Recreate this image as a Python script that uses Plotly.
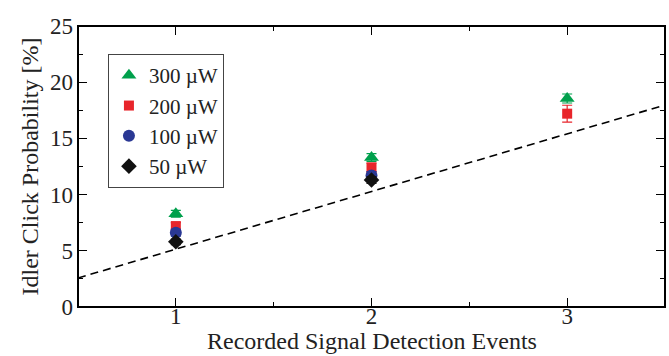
import plotly.graph_objects as go

events = [1, 2, 3]
p300 = [8.3, 13.3, 18.55]
p300_err = [0.3, 0.35, 0.4]
events_200 = [1, 2, 3]
p200 = [7.2, 12.4, 17.2]
p200_err = [0.3, 0.4, 0.75]
events_low = [1, 2]
p100 = [6.6, 11.7]
p100_err = [0.3, 0.35]
p50 = [5.8, 11.3]
p50_err = [0.25, 0.3]

fit_x = [0.5, 3.5]
fit_y = [2.58, 17.97]

x_ticks = [1, 2, 3]
y_ticks = [0, 5, 10, 15, 20, 25]
x_title = "Recorded Signal Detection Events"
y_title = "Idler Click Probability [%]"

FONT = "Liberation Serif"

fig = go.Figure()
fig.add_trace(go.Scatter(x=fit_x, y=fit_y, mode="lines",
                         line=dict(color="black", width=1.6, dash="8px,5px"),
                         showlegend=False, hoverinfo="skip"))

series = [
    ("300 µW", events, p300, p300_err, "#00a04c", "triangle-up", 13),
    ("200 µW", events_200, p200, p200_err, "#e8252b", "square", 10),
    ("100 µW", events_low, p100, p100_err, "#2a3894", "circle", 12),
    ("50 µW", events_low, p50, p50_err, "#111111", "diamond", 12),
]
for name, xs, ys, es, col, sym, sz in series:
    fig.add_trace(go.Scatter(
        x=xs, y=ys, mode="markers", name=name,
        marker=dict(symbol=sym, size=sz, color=col, line=dict(width=0)),
        error_y=dict(type="data", array=es, visible=True, color=col, thickness=1.2, width=5),
    ))

# invisible helper trace that attaches the label-only x axis
fig.add_trace(go.Scatter(x=x_ticks, y=[0] * len(x_ticks), xaxis="x2", yaxis="y",
                         mode="markers", marker=dict(opacity=0, size=1),
                         showlegend=False, hoverinfo="skip"))

axis_common = dict(
    showline=False, mirror="ticks",
    ticks="inside", ticklen=9, tickwidth=1.2, tickcolor="black",
    showgrid=False, zeroline=False, automargin=False,
    tickfont=dict(family=FONT, size=23, color="#222"),
)

fig.update_layout(xaxis=dict(range=[0.5, 3.5], tickvals=x_ticks, showticklabels=False,
                             minor=dict(tickvals=[1.5, 2.5], ticks="inside", ticklen=5, tickwidth=1.2, tickcolor="black"),
                             **axis_common))
fig.update_yaxes(range=[0, 25], tickvals=y_ticks,
                 minor=dict(tickvals=[2.5, 7.5, 12.5, 17.5, 22.5], ticks="inside", ticklen=5, tickwidth=1.2, tickcolor="black"),
                 title=dict(text=y_title, font=dict(family=FONT, size=24, color="#222"), standoff=4),
                 ticklabelstandoff=4,
                 **axis_common)

# label-only x axis, sharing the main x scale, lifted slightly so the labels sit close to the frame
fig.update_layout(xaxis2=dict(matches="x", overlaying="x", anchor="free", position=0.025,
                              side="bottom", tickvals=x_ticks, ticks="", showline=False, showgrid=False,
                              zeroline=False, automargin=False, showticklabels=True,
                              tickfont=dict(family=FONT, size=23, color="#222")))

# plot frame
fig.add_shape(type="rect", xref="paper", yref="paper", x0=0, y0=0, x1=1, y1=1,
              line=dict(color="black", width=2), layer="above")

fig.add_annotation(text=x_title, xref="paper", yref="paper", x=0.5, y=-0.121,
                   xanchor="center", yanchor="middle", showarrow=False,
                   font=dict(family=FONT, size=24, color="#222"))

fig.update_layout(
    width=669, height=356,
    margin=dict(l=78, r=4, t=26, b=49),
    paper_bgcolor="white", plot_bgcolor="white",
    legend=dict(x=0.051, y=0.9, xanchor="left", yanchor="top",
                bordercolor="#444", borderwidth=1, bgcolor="white",
                font=dict(family=FONT, size=21, color="#222"),
                itemwidth=30, tracegroupgap=0),
    showlegend=True,
)

fig.write_html("out.html", config={"displayModeBar": False},
               post_script="document.body.style.margin='0';document.body.style.padding='0';")
